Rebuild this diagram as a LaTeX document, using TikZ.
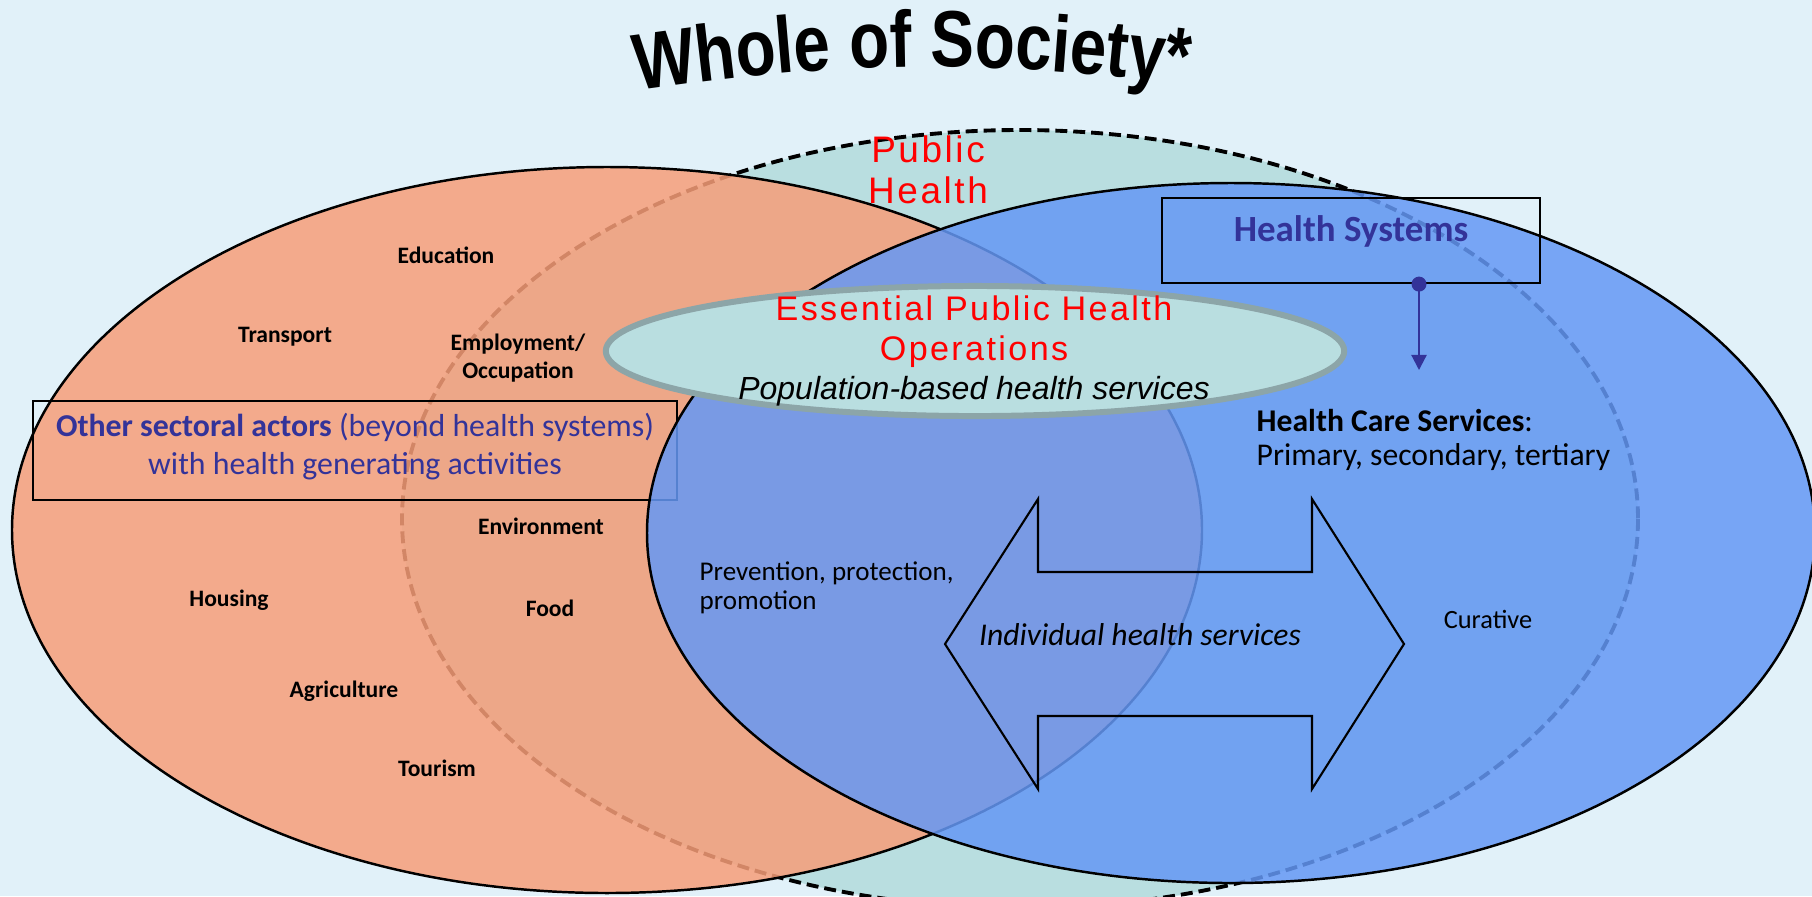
\documentclass[tikz,border=0pt]{standalone}
\usepackage{fontspec}
\setmainfont{Carlito}
\newfontfamily\arialfont{Liberation Sans}
\newfontfamily\redfont{Liberation Sans}[LetterSpace=7]
\newfontfamily\titlefont{Liberation Sans}[FakeStretch=0.82]
\usetikzlibrary{arrows.meta,decorations.text,shapes.geometric}
\definecolor{bgblue}{RGB}{225,241,249}
\definecolor{phteal}{RGB}{185,222,224}
\definecolor{osorange}{RGB}{247,158,121}
\definecolor{hsblue}{RGB}{101,152,245}
\definecolor{hsnavy}{RGB}{51,51,153}
\definecolor{ephoedge}{RGB}{140,165,168}

\begin{document}
\begin{tikzpicture}[x=0.01cm,y=-0.01cm,
    every node/.style={inner sep=0pt},
    sector/.style={inner sep=0pt,font=\bfseries\fontsize{6.7}{8.2}\selectfont,align=center},
    venn/.style={draw=black,line width=.7pt},
    textbox/.style={draw=black,line width=.6pt,rectangle}]
  \fill[bgblue] (0,0) rectangle (1812,896);
  \useasboundingbox (0,0) rectangle (1812,896);

  \coordinate (title west) at (610,95);
  \coordinate (title east) at (1215,88);
  \path[decorate,decoration={text along path,text align=center,
      text={|\titlefont\bfseries\fontsize{22.7}{26}\selectfont|Whole of Society*}}]
    (title west) to[bend left=8] (title east);

  \begin{scope}[venn]
    \filldraw[fill=phteal,line width=1.1pt,dash pattern=on 3.4pt off 1.7pt]
      (1020,519) ellipse [x radius=618,y radius=389];
    \filldraw[fill=osorange,fill opacity=.85]
      (607,530) ellipse [x radius=595,y radius=363];
    \node[textbox,minimum width=6.44cm,minimum height=.99cm] (others box) at (355,450.5) {};
    \filldraw[fill=hsblue,fill opacity=.85]
      (1231,533) ellipse [x radius=584,y radius=350];
  \end{scope}

  \node[font=\redfont\fontsize{10.5}{11.7}\selectfont,text=red,align=center] (public health) at (928,170) {Public\\Health};

  \node[ellipse,draw=ephoedge,line width=1.7pt,fill=phteal,minimum width=7.38cm,minimum height=1.30cm] (epho) at (975,351) {};
  \node[font=\redfont\fontsize{9.7}{11.4}\selectfont,text=red,align=center] (epho title) at (974,332) {Essential Public Health\\Operations};
  \node[font=\arialfont\itshape\fontsize{9.1}{11}\selectfont] (epho services) at (974,391) {Population-based health services};

  \node[textbox,minimum width=3.78cm,minimum height=.85cm] (hs box) at (1351,240.5) {};
  \node[font=\bfseries\fontsize{10.5}{12}\selectfont,text=hsnavy] (hs title) at (1351,231) {Health Systems};
  \coordinate (hcs tip) at (1419,370);
  \draw[hsnavy,line width=.6pt,-{Triangle[width=4.3pt,length=4.3pt]}] (hs box.south -| hcs tip) -- (hcs tip);
  \fill[hsnavy] (hs box.south -| hcs tip) circle [radius=7.5];
  \node[anchor=west,align=left,font=\fontsize{9}{9.5}\selectfont] (hcs) at (1256,440) {\textbf{Health Care Services}:\\Primary, secondary, tertiary};

  \node[font=\fontsize{9.05}{10.8}\selectfont,text=hsnavy,align=center] (others) at (355,447) {\textbf{Other sectoral actors} (beyond health systems)\\with health generating activities};

  \begin{scope}[every node/.style={sector}]
    \node (education) at (446,255) {Education};
    \node (transport) at (285,337) {Transport};
    \node (employment) at (518,358) {Employment/\\Occupation};
    \node (environment) at (541,526) {Environment};
    \node (housing) at (229,600) {Housing};
    \node (food) at (550,608) {Food};
    \node (agriculture) at (344,691) {Agriculture};
    \node (tourism) at (437,768) {Tourism};
  \end{scope}

  \node[anchor=west,align=left,font=\fontsize{7.7}{8.25}\selectfont] (prevention) at (699,588) {Prevention, protection,\\promotion};
  \node[font=\fontsize{7.5}{9}\selectfont] (curative) at (1488,619) {Curative};

  \draw[line width=.6pt] (945,644) -- (1038,499) -- (1038,572) -- (1312,572) -- (1312,499)
    -- (1404,644) -- (1312,789) -- (1312,716) -- (1038,716) -- (1038,789) -- cycle;
  \node[font=\itshape\fontsize{9}{11}\selectfont] (individual) at (1140,635) {Individual health services};
\end{tikzpicture}
\end{document}
